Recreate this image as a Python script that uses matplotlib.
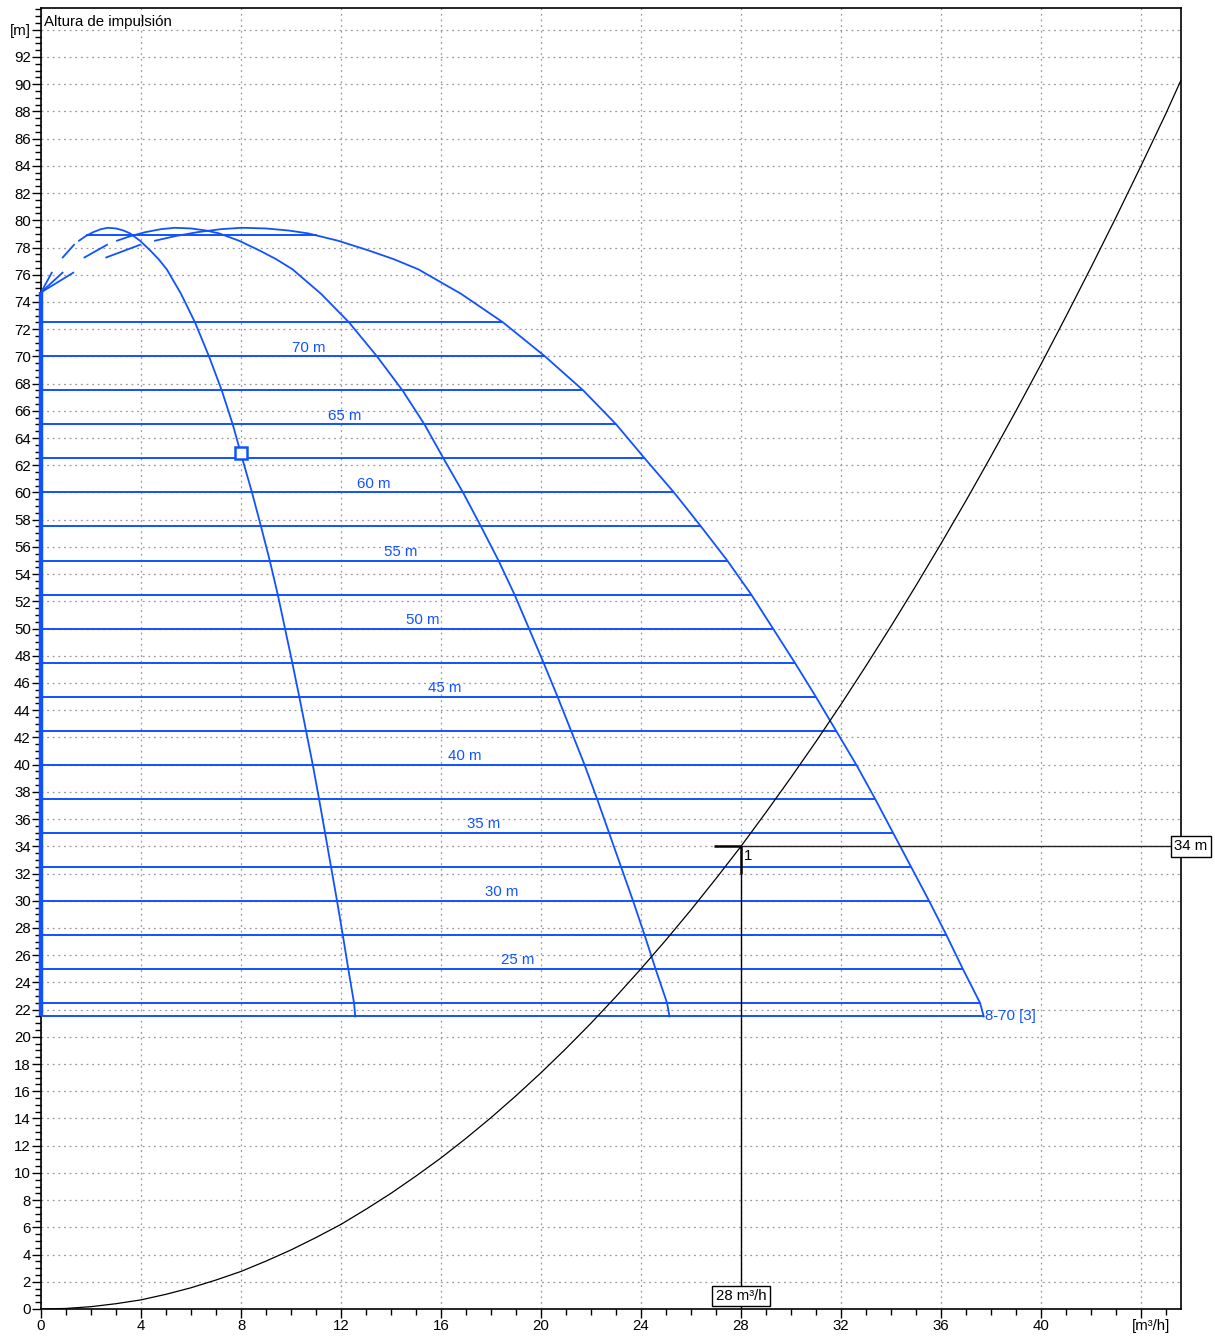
import matplotlib
matplotlib.use('Agg')
import matplotlib.pyplot as plt
import matplotlib.transforms as mtransforms
import numpy as np
from matplotlib.ticker import FixedLocator, MultipleLocator

plt.rcParams['font.family'] = ['Liberation Sans', 'DejaVu Sans']

# ---------------- data ----------------
# single-pump curve, dashed low-flow part (pairs of dashes)
q1_start = [0.0, 0.43, 0.87, 1.32]
h1_start = [74.7, 76.15, 77.27, 78.2]
# single-pump curve, solid part
q1 = [1.52, 1.8, 2.09, 2.4, 2.68, 3.0, 3.3, 3.56, 3.96, 4.36, 4.7, 5.03, 5.6,
      6.16, 6.72, 7.23, 7.67, 8.05, 8.44, 8.8, 9.15, 9.47, 9.76, 10.05, 10.33,
      10.6, 10.87, 11.12, 11.36, 11.6, 11.84, 12.07, 12.29, 12.52, 12.57]
h1 = [78.5, 78.85, 79.13, 79.35, 79.45, 79.4, 79.25, 79.04, 78.5, 77.8, 77.15,
      76.4, 74.6, 72.5, 70, 67.5, 65, 62.5, 60, 57.5, 55, 52.5, 50, 47.5, 45,
      42.5, 40, 37.5, 35, 32.5, 30, 27.5, 25, 22.5, 21.5]
pumps = [1, 2, 3]

head_levels = [21.5, 22.5, 25, 27.5, 30, 32.5, 35, 37.5, 40, 42.5, 45, 47.5,
               50, 52.5, 55, 57.5, 60, 62.5, 65, 67.5, 70, 72.5]
label_levels = [25, 30, 35, 40, 45, 50, 55, 60, 65, 70]
top_level = 78.9

# system curve
q_sys = [0, 1, 2, 3, 4, 5, 6, 7, 8, 9, 10, 11, 12, 13, 14, 15, 16, 17, 18, 19,
         20, 21, 22, 23, 24, 25, 26, 27, 28, 29, 30, 31, 32, 33, 34, 35, 36,
         37, 38, 39, 40, 41, 42, 43, 44, 45, 45.6]
h_sys = [0, 0.04, 0.17, 0.39, 0.67, 1.08, 1.56, 2.13, 2.76, 3.52, 4.34, 5.25,
         6.22, 7.33, 8.5, 9.77, 11.1, 12.54, 14.06, 15.67, 17.36, 19.14, 21.0,
         22.96, 25.0, 27.12, 29.33, 31.63, 34.0, 36.5, 39.06, 41.7, 44.43,
         47.26, 50.17, 53.16, 56.24, 59.4, 62.66, 66.0, 69.42, 72.94, 76.54,
         80.22, 84.0, 87.86, 90.3]

# operating point
op_q, op_h = 28, 34
marker_q, marker_h = 8.0, 62.9

x_ticks = [0, 4, 8, 12, 16, 20, 24, 28, 32, 36, 40, 44]
x_labels = ['0', '4', '8', '12', '16', '20', '24', '28', '32', '36', '40', '[m³/h]']
y_ticks = list(range(0, 96, 2))
y_labels = [str(v) for v in range(0, 94, 2)] + ['[m]']

BLUE = '#1152ff'
FS = 10.8

# ---------------- figure ----------------
fig = plt.figure(figsize=(12.15, 13.43), dpi=100)
ax = fig.add_axes([41 / 1215, 34 / 1343, (1181 - 41) / 1215, (1309 - 8) / 1343])
ax.set_xlim(0, 45.6)
ax.set_ylim(0, 95.6)

ax.xaxis.set_major_locator(FixedLocator(x_ticks))
ax.set_xticklabels(x_labels)
ax.xaxis.set_minor_locator(MultipleLocator(1))
ax.yaxis.set_major_locator(FixedLocator(y_ticks))
ax.set_yticklabels(y_labels)
ax.yaxis.set_minor_locator(MultipleLocator(0.5))
ax.tick_params(which='major', direction='out', length=6.5, width=1, labelsize=FS, pad=0.8)
ax.tick_params(which='minor', direction='out', length=4.3, width=1)
ax.grid(which='major', color='#9a9a9a', linestyle=(0, (1.5, 3)), linewidth=0.9)
ax.set_axisbelow(True)
for s in ax.spines.values():
    s.set_linewidth(1.2)

# unit label on x axis sits slightly right of its tick
unit_lbl = ax.get_xticklabels()[-1]
unit_lbl.set_transform(unit_lbl.get_transform() +
                       mtransforms.ScaledTranslation(10 / 100, 0, fig.dpi_scale_trans))

q1a = np.array(q1)
h1a = np.array(h1)
ipk = int(np.argmax(h1a))
q_fall = q1a[ipk:][::-1]
h_fall = h1a[ipk:][::-1]
q_rise = q1a[:ipk + 1]
h_rise = h1a[:ipk + 1]
nmax = max(pumps)

# horizontal head lines
for h in head_levels:
    xe = np.interp(h, h_fall, q_fall) * nmax
    ax.plot([0, xe], [h, h], color=BLUE, lw=1.4, solid_capstyle='butt', zorder=3)
for h in label_levels:
    xe = np.interp(h, h_fall, q_fall) * nmax
    ax.text(xe / 2 + 0.65, h + 0.62, f'{h} m', color=BLUE, fontsize=FS,
            ha='center', va='center', zorder=4)
xs = np.interp(top_level, h_rise, q_rise)
xe = np.interp(top_level, h_fall, q_fall) * nmax
ax.plot([xs, xe], [top_level, top_level], color=BLUE, lw=1.4, zorder=3)

# pump curves
for n in pumps:
    qa = np.array(q1_start) * n
    ax.plot(qa[0:2], h1_start[0:2], color=BLUE, lw=1.3, zorder=3)
    ax.plot(qa[2:4], h1_start[2:4], color=BLUE, lw=1.3, zorder=3)
    ax.plot(q1a * n, h1a, color=BLUE, lw=1.3, zorder=3)

# left thick bar
ax.plot([0, 0], [head_levels[0], h1_start[0]], color=BLUE, lw=3.2,
        solid_capstyle='butt', zorder=5, clip_on=False)

ax.text(q1a[-1] * nmax + 0.05, h1a[-1], '8-70 [3]', color=BLUE, fontsize=FS,
        ha='left', va='center', zorder=4)

ax.plot([marker_q], [marker_h], marker='s', markersize=8.5, mfc='white',
        mec=BLUE, mew=1.8, zorder=6)

# system curve
ax.plot(q_sys, h_sys, color='black', lw=0.9, zorder=4)

# operating point lines
ax.plot([op_q - 1.1, op_q], [op_h, op_h], color='black', lw=1.8, zorder=5,
        solid_capstyle='butt')
ax.plot([op_q, 45.6], [op_h, op_h], color='#222222', lw=1.0, zorder=5)
ax.plot([op_q, op_q], [op_h, op_h - 2], color='black', lw=1.8, zorder=5,
        solid_capstyle='butt')
ax.plot([op_q, op_q], [op_h - 2, 0], color='black', lw=1.0, zorder=5)
ax.text(op_q + 0.1, op_h - 0.7, '1', fontsize=FS, ha='left', va='center', zorder=6)

box = dict(boxstyle='square,pad=0.22', fc='white', ec='black', lw=1.0)
ax.text(op_q, 0.95, f'{op_q} m³/h', fontsize=FS, ha='center', va='center',
        bbox=box, zorder=7)
ax.text(46.0, op_h, f'{op_h} m', fontsize=FS, ha='center', va='center',
        bbox=box, zorder=7, clip_on=False)

ax.text(0.003, 0.995, 'Altura de impulsión', transform=ax.transAxes,
        fontsize=FS, ha='left', va='top', zorder=7)

fig.savefig('out.png', dpi=100)
